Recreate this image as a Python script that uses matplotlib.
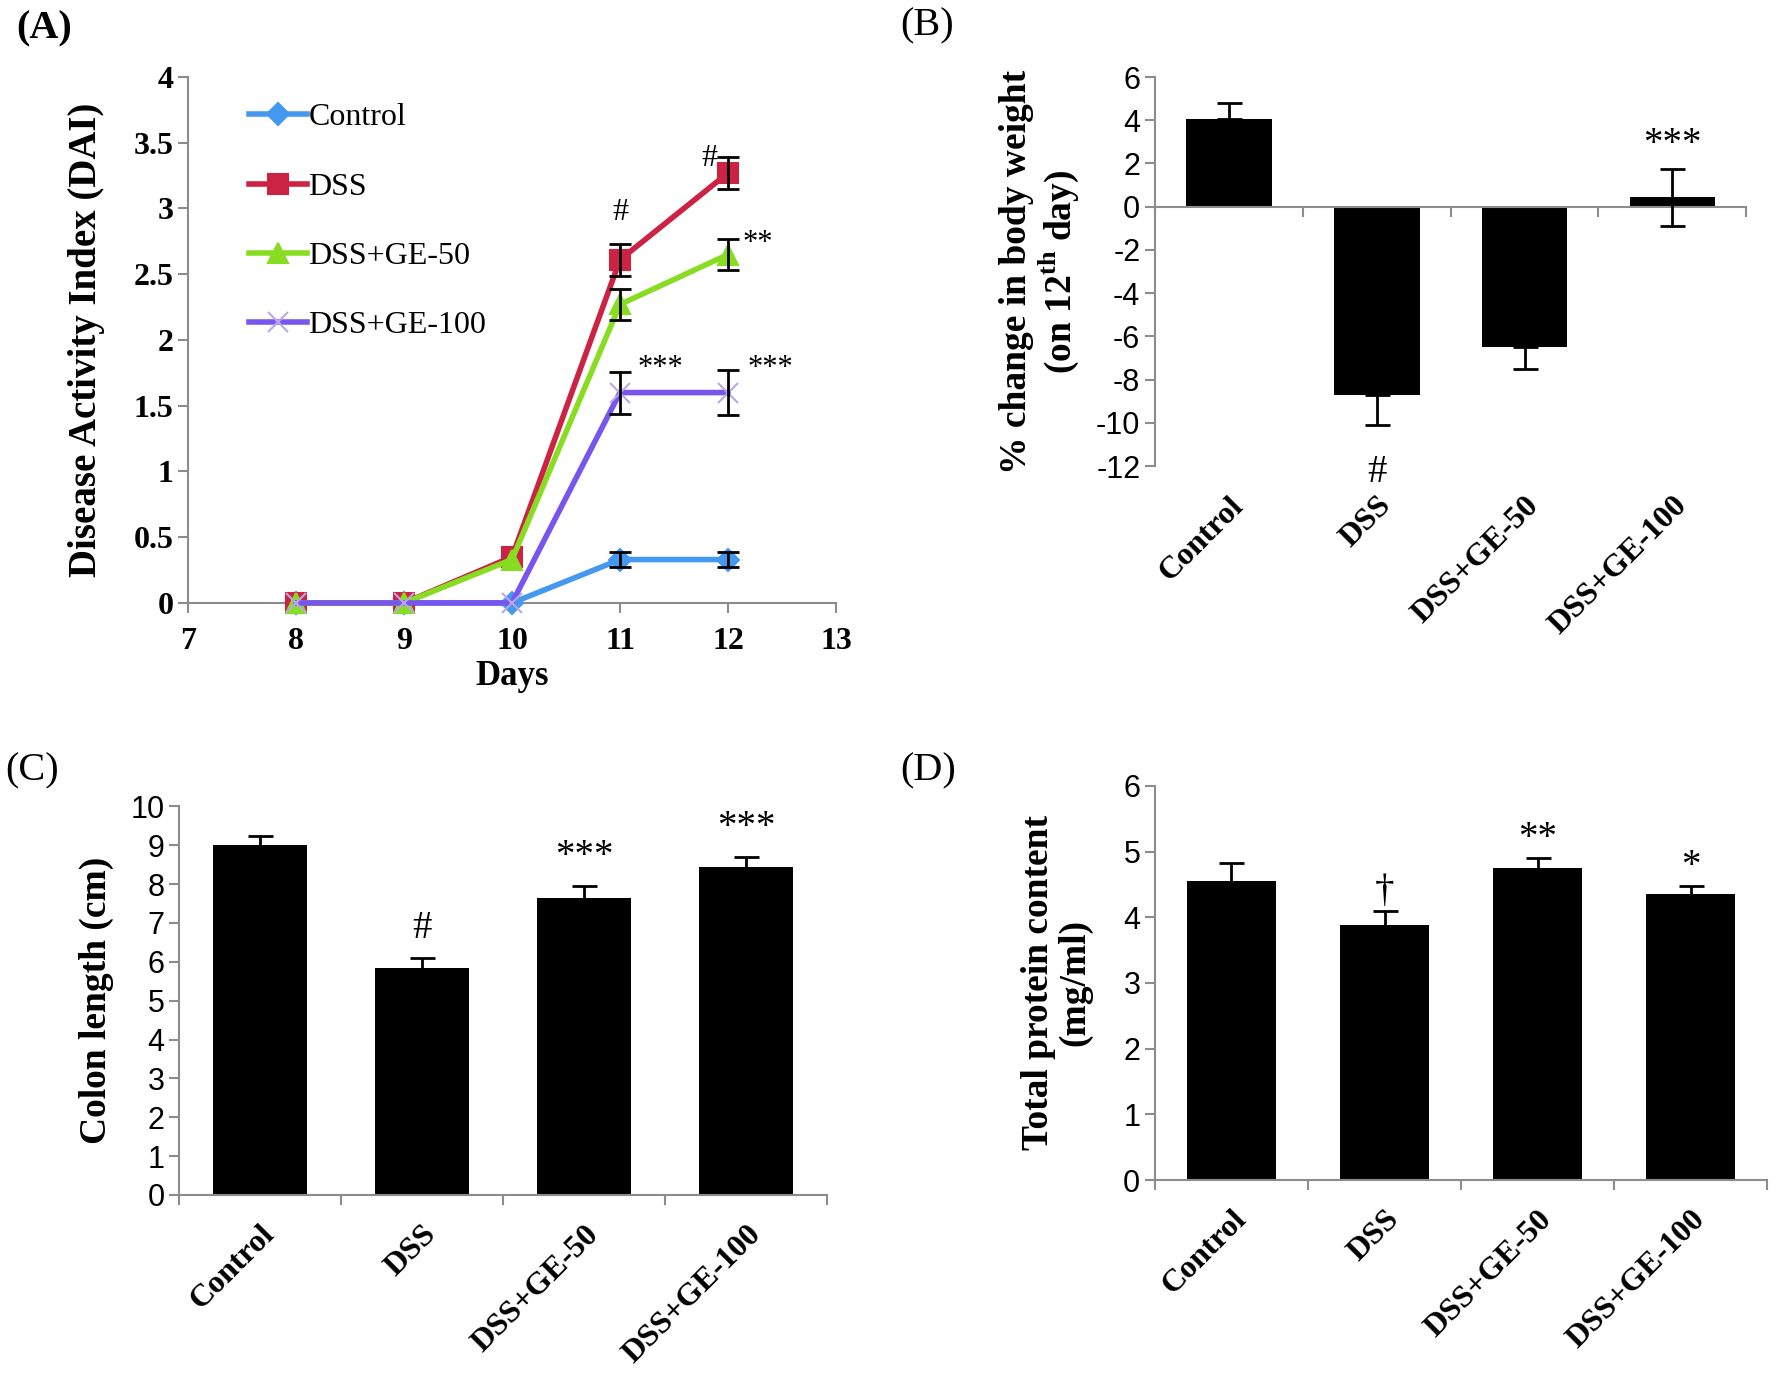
import matplotlib
matplotlib.use('Agg')
import matplotlib.pyplot as plt
import numpy as np

# ---- data ----
groups = ["Control", "DSS", "DSS+GE-50", "DSS+GE-100"]

days = [8, 9, 10, 11, 12]
dai_control = [0, 0, 0, 0.33, 0.33]
dai_control_err = [0, 0, 0, 0.06, 0.06]
dai_dss = [0, 0, 0.35, 2.61, 3.27]
dai_dss_err = [0, 0, 0, 0.12, 0.12]
dai_ge50 = [0, 0, 0.33, 2.27, 2.65]
dai_ge50_err = [0, 0, 0, 0.12, 0.12]
dai_ge100 = [0, 0, 0, 1.6, 1.6]
dai_ge100_err = [0, 0, 0, 0.16, 0.17]

weight_change = [4.05, -8.7, -6.5, 0.45]
weight_err_low = [0, 1.4, 1.0, 1.35]
weight_err_high = [0.75, 0, 0, 1.3]

colon_length = [9.0, 5.85, 7.65, 8.45]
colon_err = [0.25, 0.25, 0.3, 0.25]
colon_marks = ["", "#", "***", "***"]

protein = [4.55, 3.88, 4.75, 4.35]
protein_err = [0.28, 0.22, 0.15, 0.13]
protein_marks = ["", "\u2020", "**", "*"]

serif = "Liberation Serif"
sans = ["Liberation Sans Narrow", "Liberation Sans"]
axis_grey = "#8c8c8c"

fig = plt.figure(figsize=(17.76, 13.75), dpi=100)


def style_axes(ax):
    for s in ["top", "right"]:
        ax.spines[s].set_visible(False)
    for s in ["left", "bottom"]:
        ax.spines[s].set_color(axis_grey)
        ax.spines[s].set_linewidth(1.5)
    ax.tick_params(axis="both", direction="out", color=axis_grey, width=1.5, length=7)


def bar_panel(ax, values, err, ylim, yticks, ylabel, label_x):
    x = np.arange(len(groups))
    ax.bar(x, values, width=0.58, color="black", zorder=2)
    ax.errorbar(x, values, yerr=err, fmt="none", ecolor="black",
                elinewidth=2, capsize=9, capthick=2, zorder=3)
    ax.set_xlim(-0.5, len(groups) - 0.5)
    ax.set_ylim(*ylim)
    ax.set_yticks(yticks)
    ax.set_yticklabels([str(t) for t in yticks], family=sans, fontsize=22)
    ax.set_xticks(np.arange(len(groups) + 1) - 0.5)
    ax.set_xticklabels([])
    style_axes(ax)
    ax.set_ylabel(ylabel, family=serif, fontweight="bold", fontsize=27, linespacing=1.05)
    ax.yaxis.set_label_coords(label_x, 0.5)
    sec = ax.secondary_xaxis(0)
    sec.set_xticks(x)
    sec.set_xticklabels(groups, family=serif, fontweight="bold", fontsize=23,
                        rotation=45, ha="right", rotation_mode="anchor")
    sec.tick_params(length=0, pad=18)
    sec.spines["bottom"].set_visible(False)
    return x


# ---- (A) disease activity index ----
axA = fig.add_axes([0.1059, 0.5615, 0.3648, 0.3825])
series = [
    ("Control", dai_control, dai_control_err, "#4499ee", "D", "#4499ee", 11),
    ("DSS", dai_dss, dai_dss_err, "#cc2244", "s", "#cc2244", 15),
    ("DSS+GE-50", dai_ge50, dai_ge50_err, "#88dd22", "^", "#88dd22", 15),
    ("DSS+GE-100", dai_ge100, dai_ge100_err, "#7755ee", "x", "#b8a8e8", 15),
]
for name, vals, errs, col, mk, mcol, ms in series:
    axA.plot(days, vals, color=col, lw=4, marker=mk, markersize=ms,
             markerfacecolor=mcol, markeredgecolor=mcol, markeredgewidth=1.5,
             label=name, zorder=3, clip_on=False)
    e = np.array(errs)
    idx = e > 0
    axA.errorbar(np.array(days)[idx], np.array(vals)[idx], yerr=e[idx], fmt="none",
                 ecolor="black", elinewidth=2, capsize=8, capthick=2, zorder=4)
axA.set_xlim(7, 13)
axA.set_ylim(0, 4)
axA.set_xticks(range(7, 14))
axA.set_xticklabels([str(d) for d in range(7, 14)], family=serif, fontweight="bold", fontsize=23)
axA.set_yticks(np.arange(0, 4.01, 0.5))
axA.set_yticklabels(["0", "0.5", "1", "1.5", "2", "2.5", "3", "3.5", "4"],
                    family=serif, fontweight="bold", fontsize=23)
style_axes(axA)
axA.tick_params(axis="x", pad=10)
axA.set_xlabel("Days", family=serif, fontweight="bold", fontsize=25, labelpad=3)
axA.set_ylabel("Disease Activity Index (DAI)", family=serif, fontweight="bold", fontsize=28)
axA.yaxis.set_label_coords(-0.128, 0.5)
axA.legend(loc="upper left", bbox_to_anchor=(0.05, 1.005), frameon=False,
           prop={"family": serif, "size": 23}, handlelength=1.8,
           handletextpad=0.05, labelspacing=1.25)
axA.text(11, 2.97, "#", ha="center", va="center", family=serif, fontsize=23)
axA.text(11.83, 3.38, "#", ha="center", va="center", family=serif, fontsize=23)
axA.text(12.28, 2.73, "**", ha="center", va="center", family=serif, fontsize=22)
axA.text(11.37, 1.78, "***", ha="center", va="center", family=serif, fontsize=22)
axA.text(12.39, 1.78, "***", ha="center", va="center", family=serif, fontsize=22)

# ---- (B) body weight change ----
axB = fig.add_axes([0.6503, 0.661, 0.333, 0.283])
xb = bar_panel(axB, weight_change, [weight_err_low, weight_err_high],
               (-12, 6), list(range(-12, 7, 2)),
               "% change in body weight\n(on 12$^{\\mathregular{th}}$ day)", -0.125)
axB.spines["bottom"].set_position(("data", 0))
axB.text(xb[3], 2.9, "***", ha="center", va="center", family=serif, fontsize=28)
axB.text(xb[1], -12.3, "#", ha="center", va="center", family=serif, fontsize=28)

# ---- (C) colon length ----
axC = fig.add_axes([0.1008, 0.131, 0.3649, 0.2825])
xc = bar_panel(axC, colon_length, colon_err, (0, 10), list(range(0, 11)),
               "Colon length (cm)", -0.101)
for xi, v, e, m in zip(xc, colon_length, colon_err, colon_marks):
    if m:
        axC.text(xi, v + e + 0.75, m, ha="center", va="center", family=serif, fontsize=28)

# ---- (D) total protein ----
axD = fig.add_axes([0.6503, 0.1418, 0.3447, 0.2866])
xd = bar_panel(axD, protein, protein_err, (0, 6), list(range(0, 7)),
               "Total protein content\n(mg/ml)", -0.102)
for xi, v, e, m in zip(xd, protein, protein_err, protein_marks):
    if m:
        axD.text(xi, v + e + 0.3, m, ha="center", va="center", family=serif, fontsize=28)

# ---- panel letters ----
fig.text(0.009, 0.979, "(A)", family=serif, fontweight="bold", fontsize=29, va="center")
fig.text(0.507, 0.981, "(B)", family=serif, fontsize=29, va="center")
fig.text(0.003, 0.439, "(C)", family=serif, fontsize=29, va="center")
fig.text(0.507, 0.439, "(D)", family=serif, fontsize=29, va="center")

fig.savefig("out.png", dpi=100, facecolor="white")
plt.close(fig)
